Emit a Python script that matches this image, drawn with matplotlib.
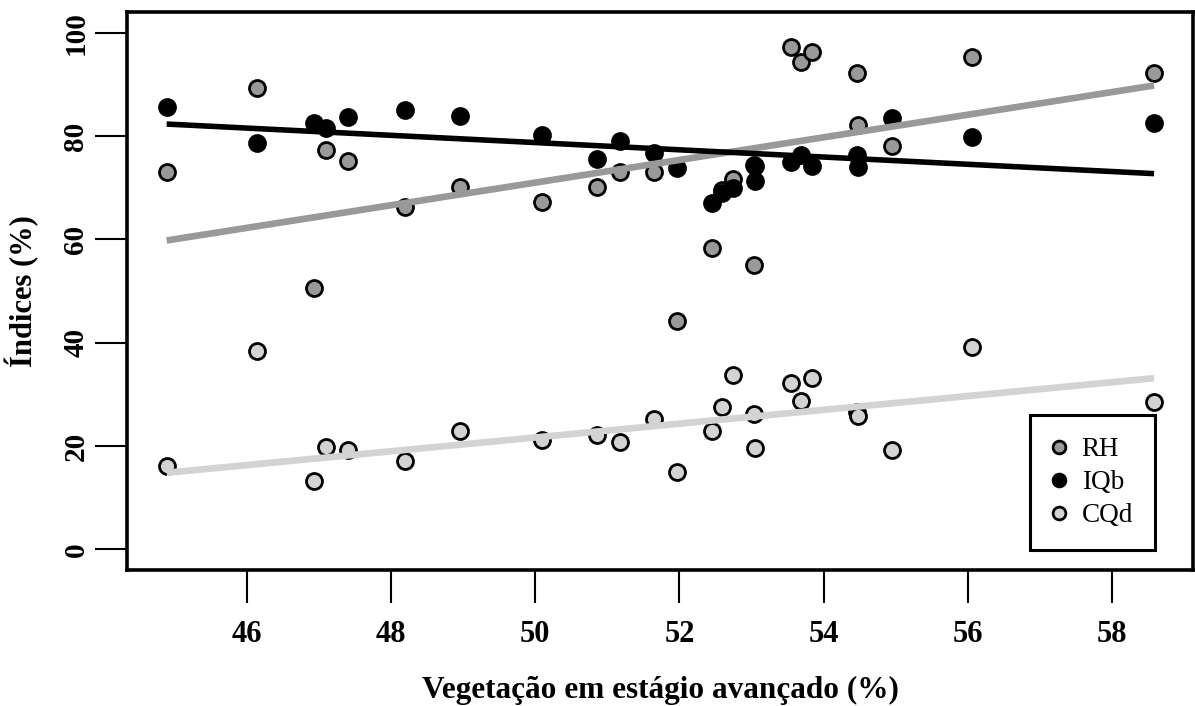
import matplotlib
matplotlib.use("Agg")
import matplotlib.pyplot as plt
import numpy as np

# Vegetação em estágio avançado (%) per unit
vegetacao = [44.89, 46.14, 46.93, 47.10, 47.41, 48.19, 48.96, 50.09, 50.86, 51.18,
             51.65, 51.97, 52.45, 52.59, 52.74, 53.03, 53.05, 53.54, 53.68, 53.84,
             54.46, 54.48, 54.95, 56.05, 58.58]

rh = [73.1, 89.2, 50.6, 77.3, 75.1, 66.2, 70.2, 67.3, 70.2, 73.1,
      73.1, 44.2, 58.3, 69.5, 71.6, 55.1, 74.2, 97.2, 94.3, 96.3,
      92.1, 82.1, 78.1, 95.3, 92.1]

iqb = [85.6, 78.7, 82.6, 81.5, 83.7, 85.1, 83.9, 80.2, 75.5, 79.1,
       76.7, 73.8, 67.0, 68.9, 70.0, 74.4, 71.3, 75.0, 76.3, 74.1,
       76.3, 74.0, 83.4, 79.9, 82.6]

cqd = [16.1, 38.4, 13.3, 19.9, 19.3, 17.05, 23.0, 21.2, 22.1, 20.7,
       25.2, 14.9, 23.0, 27.6, 33.8, 26.2, 19.6, 32.1, 28.7, 33.1,
       26.5, 25.8, 19.3, 39.2, 28.5]

# linear fits (intercept, slope)
fit_rh = (-38.57, 2.191)
fit_iqb = (113.78, -0.701)
fit_cqd = (-45.2, 1.337)

series_names = ["RH", "IQb", "CQd"]
x_ticks = [46, 48, 50, 52, 54, 56, 58]
y_ticks = [0, 20, 40, 60, 80, 100]

plt.rcParams["font.family"] = ["Liberation Serif", "DejaVu Serif"]

fig = plt.figure(figsize=(11.95, 7.06), dpi=100)
ax = fig.add_axes([127 / 1195, 1 - 570 / 706, (1193 - 127) / 1195, (570 - 12) / 706])

fills = ["#999999", "#000000", "#d3d3d3"]
line_cols = ["#999999", "#000000", "#d3d3d3"]
line_w = [4.8, 4.0, 4.8]

x = np.array(vegetacao)
for vals, fc, name in zip([rh, iqb, cqd], fills, series_names):
    ax.plot(x, vals, linestyle="none", marker="o", markersize=11.5,
            markerfacecolor=fc, markeredgecolor="black", markeredgewidth=2.0,
            label=name, zorder=3)

xr = np.array([x.min(), x.max()])
for (b0, b1), lc, lw in zip([fit_rh, fit_iqb, fit_cqd], line_cols, line_w):
    ax.plot(xr, b0 + b1 * xr, color=lc, linewidth=lw, solid_capstyle="butt", zorder=4)

ax.set_xlim(44.34, 59.12)
ax.set_ylim(-4, 104)
ax.set_xticks(x_ticks)
ax.set_yticks(y_ticks)
ax.set_xticklabels([str(v) for v in x_ticks], fontsize=22, fontweight="bold")
ax.set_yticklabels([str(v) for v in y_ticks], fontsize=21, fontweight="bold",
                   rotation=90, va="center")
ax.tick_params(axis="x", length=24, width=1.5, pad=12, direction="out")
ax.tick_params(axis="y", length=23, width=1.5, pad=4, direction="out")
for s in ax.spines.values():
    s.set_linewidth(2.6)

ax.set_xlabel("Vegetação em estágio avançado (%)", fontsize=22.5, fontweight="bold")
ax.set_ylabel("Índices (%)", fontsize=22, fontweight="bold")
ax.xaxis.set_label_coords(0.5, -0.215)
ax.yaxis.set_label_coords(-0.098, 0.5)
ax.xaxis.label.set_va("center")
ax.yaxis.label.set_va("center")

leg = ax.legend(loc="lower right", bbox_to_anchor=(0.964, 0.036), borderaxespad=0,
                fontsize=19.5, frameon=True, fancybox=False, markerscale=0.8,
                handlelength=0.5, handletextpad=0.6, labelspacing=0.3,
                borderpad=0.8)
leg.get_frame().set_edgecolor("black")
leg.get_frame().set_linewidth(2.2)
leg.get_frame().set_alpha(1)

fig.savefig("out.png", dpi=100)
